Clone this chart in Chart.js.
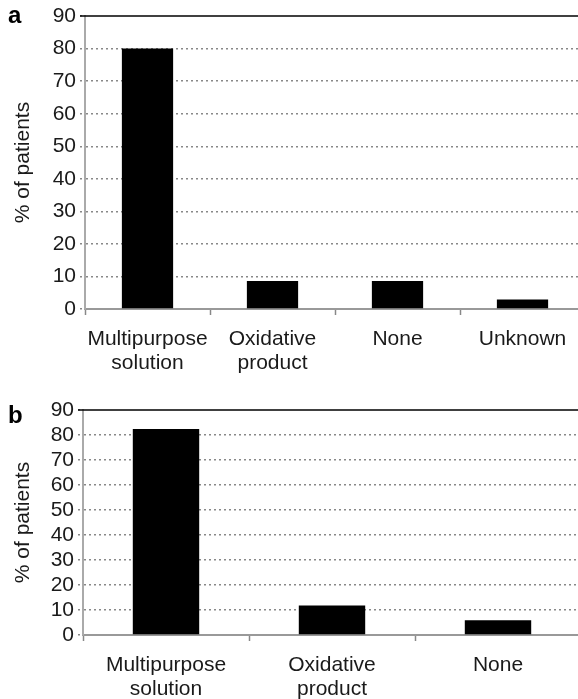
<!DOCTYPE html>
<html>
<head>
<meta charset="utf-8">
<script src="https://cdn.jsdelivr.net/npm/chart.js@4"></script>
<style>
  html, body { margin: 0; padding: 0; background: #fff; overflow: hidden; }
  #wrap { position: relative; width: 590px; height: 699px; }
  .panel { position: absolute; left: 0; width: 590px; }
  .tag { position: absolute; left: 8px; font: bold 24px "Liberation Sans", Arial, sans-serif; color: #000; line-height: 24px; }
</style>
</head>
<body>
<div id="wrap">
  <div class="panel" style="top:0;height:375px"><canvas id="chartA"></canvas></div>
  <div class="panel" style="top:375px;height:324px"><canvas id="chartB"></canvas></div>
  <div class="tag" style="top:3px">a</div>
  <div class="tag" style="top:403px">b</div>
</div>
<script>
const labelsA = [["Multipurpose", "solution"], ["Oxidative", "product"], "None", "Unknown"];
const valuesA = [80, 8.6, 8.6, 2.9];

const labelsB = [["Multipurpose", "solution"], ["Oxidative", "product"], "None"];
const valuesB = [82.4, 11.8, 5.9];

const yTitle = "% of patients";
const yMax = 90;
const yStep = 10;

const font = { family: '"Liberation Sans", Arial, sans-serif', size: 21, lineHeight: 1.15 };

// solid black line along the 90 gridline
const topLine = {
  id: "topLine",
  afterDraw(chart) {
    const { ctx, chartArea, scales } = chart;
    const y = scales.y.getPixelForValue(yMax);
    ctx.save();
    ctx.strokeStyle = "#000";
    ctx.lineWidth = 1.5;
    ctx.beginPath();
    ctx.moveTo(chartArea.left - 5, y);
    ctx.lineTo(chartArea.right, y);
    ctx.stroke();
    ctx.restore();
  }
};

function makeChart(id, labels, values, opts) {
  return new Chart(document.getElementById(id), {
    type: "bar",
    data: {
      labels: labels,
      datasets: [{
        data: values,
        backgroundColor: "#000",
        borderWidth: 0,
        categoryPercentage: 1,
        barPercentage: opts.barPct
      }]
    },
    options: {
      responsive: true,
      maintainAspectRatio: false,
      animation: false,
      layout: { padding: { left: 0, right: opts.padRight, top: opts.padTop, bottom: 0 } },
      plugins: { legend: { display: false }, tooltip: { enabled: false } },
      scales: {
        x: {
          afterFit: s => { s.height = opts.xHeight; },
          grid: {
            offset: true,
            drawOnChartArea: false,
            tickLength: 6,
            tickColor: "#888",
            tickWidth: 1.5
          },
          border: { color: "#999", width: 2 },
          ticks: { color: "#1a1a1a", font: font, padding: 12, maxRotation: 0, autoSkip: false }
        },
        y: {
          min: 0,
          max: yMax,
          afterFit: s => { s.width = opts.yWidth; },
          grid: {
            color: c => (c.tick.value === 0 || c.tick.value === yMax) ? "rgba(0,0,0,0)" : "#888",
            lineWidth: 1.5,
            tickLength: 5,
            tickColor: "#888",
            tickBorderDash: [2, 3]
          },
          border: { color: "#aaa", width: 2, dash: [2, 3] },
          ticks: { stepSize: yStep, autoSkip: false, color: "#1a1a1a", font: font, padding: 4 },
          title: { display: true, text: yTitle, color: "#1a1a1a", font: font, padding: { top: 11, bottom: 0 } }
        }
      }
    },
    plugins: [topLine]
  });
}

makeChart("chartA", labelsA, valuesA, { barPct: 0.41, padRight: 5, padTop: 14, xHeight: 66, yWidth: 85 });
makeChart("chartB", labelsB, valuesB, { barPct: 0.40, padRight: 9, padTop: 35, xHeight: 64, yWidth: 83 });
</script>
</body>
</html>
